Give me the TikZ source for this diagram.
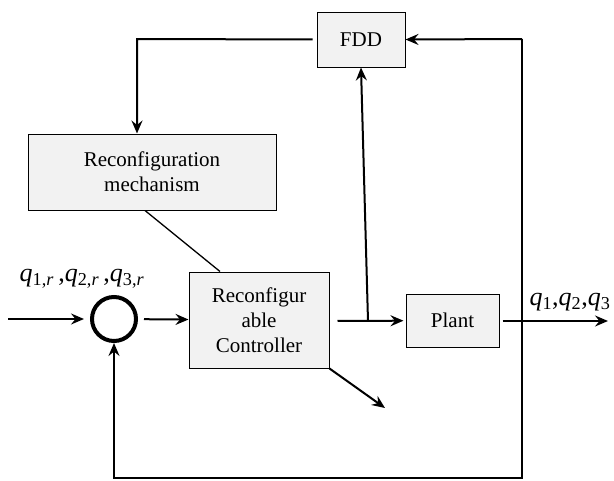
\documentclass[tikz,border=0pt]{standalone}
\usepackage{fontspec}
\setmainfont{Liberation Serif}
\usetikzlibrary{arrows.meta}
\tikzset{
  blk/.style={draw, fill=black!5, line width=1pt, inner sep=0pt, align=center,
    font=\fontsize{21}{25}\selectfont},
  sig/.style={line width=2pt, -{Stealth[length=13pt,width=11pt,inset=4.5pt]}},
  lbl/.style={inner sep=0pt, font=\fontsize{26}{30}\selectfont}
}
\begin{document}
\begin{tikzpicture}[x=1pt,y=-1pt]
      \useasboundingbox (0,0) rectangle (614,480);
      \draw
        (361,39.5) node[blk, minimum width=88pt, minimum height=55pt] (fdd){FDD}
        (152,172) node[blk, minimum width=248pt, minimum height=76pt] (mech){Reconfiguration\\mechanism}
        (259,320) node[blk, minimum width=140pt, minimum height=96pt] (ctrl){Reconfigur\\able\\Controller}
        (452.5,320.5) node[blk, minimum width=93pt, minimum height=53pt] (plant){Plant}
        (114,319) node[circle, draw, line width=4pt, minimum size=44pt, inner sep=0pt] (sum){}
        (82,279) node[lbl] (ref){\textit{q}\textsubscript{1,\textit{r}}\,,\textit{q}\textsubscript{2,\textit{r}}\,,\textit{q}\textsubscript{3,\textit{r}}}
        (570,302) node[lbl] (outlbl){\textit{q}\textsubscript{1},\textit{q}\textsubscript{2},\textit{q}\textsubscript{3}};
      \coordinate (in) at (8,319);
      \coordinate (out) at (608,321);
      \coordinate (branch) at (368,321);
      \coordinate (tr) at (522,39);
      \coordinate (br) at (522,478);
      \coordinate (bl) at (114,478);
      \coordinate (tl) at (137,39);
      \coordinate (diag) at (385,408);
      \begin{scope}[sig]
        \draw[shorten >=6pt] (in) -- (sum);
        \draw[shorten <=6pt] (sum) -- (ctrl);
        \draw[shorten <=8pt, shorten >=2pt] (ctrl.east |- branch) -- (plant);
        \draw (branch) -- (fdd.south);
        \draw[shorten <=3pt] (plant.east |- out) -- (out);
        \draw (tr) -- (fdd.east);
        \draw (tr) -- (br) -- (bl) -- (sum.south);
        \draw[shorten <=4pt] (fdd.west) -- (tl) -- (tl |- mech.north);
        \draw (ctrl.south east) -- (diag);
      \end{scope}
      \draw[line width=1.3pt] ([xshift=-7pt]mech.south) -- ([xshift=-39pt]ctrl.north);
    \end{tikzpicture}
\end{document}
